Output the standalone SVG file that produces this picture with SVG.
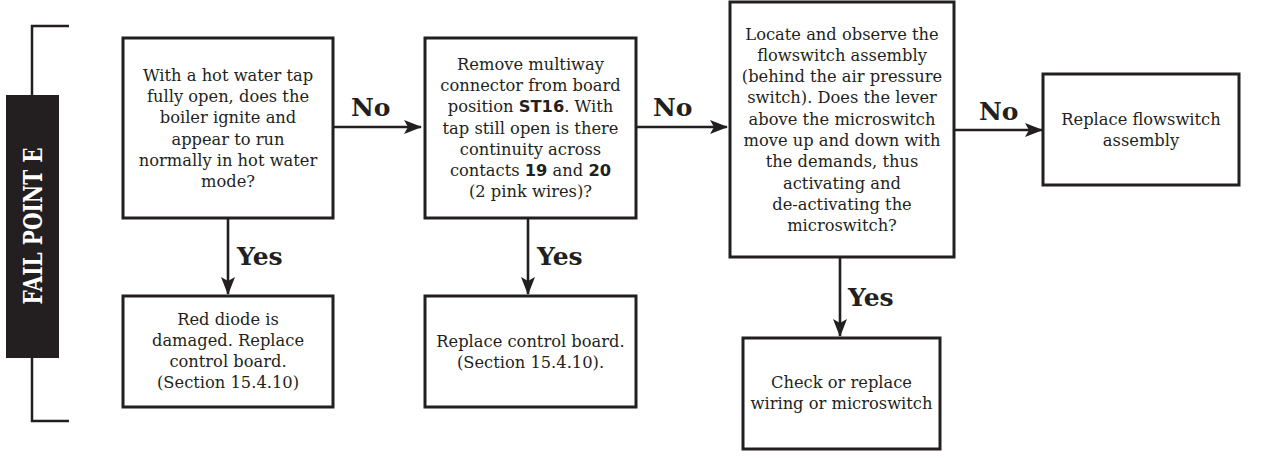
<svg xmlns="http://www.w3.org/2000/svg" width="1279" height="463" viewBox="0 0 1279 463">
<defs>
<style>
.box{fill:#fff;stroke:#231f20;stroke-width:3}
.t{font-family:"DejaVu Serif","Liberation Serif",serif;font-size:16.3px;fill:#231f20;text-anchor:middle}
.b{font-family:"DejaVu Sans","Liberation Sans",sans-serif;font-weight:bold}
.lbl{font-family:"DejaVu Serif","Liberation Serif",serif;font-weight:bold;font-size:25px;fill:#231f20}
.con{stroke:#231f20;stroke-width:2.6;fill:none}
.br{stroke:#231f20;stroke-width:2.5;fill:none}
</style>
<marker id="ah" markerUnits="userSpaceOnUse" viewBox="0 0 18 14" markerWidth="18" markerHeight="14" refX="17" refY="7" orient="auto">
<path d="M0,0 L18,7 L0,14 L4,7 z" fill="#231f20"/>
</marker>
</defs>
<rect width="1279" height="463" fill="#fff"/>

<g id="fail-point">
<path class="br" d="M69,26 H32 V421 H69"/>
<rect x="6" y="95" width="53" height="263" fill="#231f20"/>
<text transform="translate(42,226) rotate(-90)" text-anchor="middle" font-family="DejaVu Serif,Liberation Serif,serif" font-weight="bold" font-size="26" fill="#fff" textLength="157" lengthAdjust="spacingAndGlyphs">FAIL POINT E</text>
</g>

<g id="connectors">
<line class="con" x1="333" y1="127" x2="421" y2="127" marker-end="url(#ah)"/>
<text class="lbl" x="351" y="116">No</text>
<line class="con" x1="636" y1="127" x2="727" y2="127" marker-end="url(#ah)"/>
<text class="lbl" x="653" y="116">No</text>
<line class="con" x1="954" y1="130" x2="1042" y2="130" marker-end="url(#ah)"/>
<text class="lbl" x="979" y="120">No</text>
<line class="con" x1="228" y1="218" x2="228" y2="294" marker-end="url(#ah)"/>
<text class="lbl" x="237" y="265">Yes</text>
<line class="con" x1="528" y1="218" x2="528" y2="294" marker-end="url(#ah)"/>
<text class="lbl" x="537" y="265">Yes</text>
<line class="con" x1="840" y1="257" x2="840" y2="336" marker-end="url(#ah)"/>
<text class="lbl" x="848" y="306">Yes</text>
</g>

<g id="q1">
<rect class="box" x="123" y="38" width="210" height="180"/>
<text class="t"><tspan x="228" y="81">With a hot water tap</tspan><tspan x="228" y="102.2">fully open, does the</tspan><tspan x="228" y="123.4">boiler ignite and</tspan><tspan x="228" y="144.6">appear to run</tspan><tspan x="228" y="165.8">normally in hot water</tspan><tspan x="228" y="187">mode?</tspan></text>
</g>

<g id="q2">
<rect class="box" x="425" y="38" width="211" height="180"/>
<text class="t"><tspan x="530.5" y="70">Remove multiway</tspan><tspan x="530.5" y="91.2">connector from board</tspan><tspan x="530.5" y="112.4">position <tspan class="b">ST16</tspan>. With</tspan><tspan x="530.5" y="133.6">tap still open is there</tspan><tspan x="530.5" y="154.8">continuity across</tspan><tspan x="530.5" y="176">contacts <tspan class="b">19</tspan> and <tspan class="b">20</tspan></tspan><tspan x="530.5" y="197.2">(2 pink wires)?</tspan></text>
</g>

<g id="q3">
<rect class="box" x="730" y="2" width="224" height="255"/>
<text class="t"><tspan x="842" y="39.5">Locate and observe the</tspan><tspan x="842" y="60.8">flowswitch assembly</tspan><tspan x="842" y="82.1">(behind the air pressure</tspan><tspan x="842" y="103.4">switch). Does the lever</tspan><tspan x="842" y="124.7">above the microswitch</tspan><tspan x="842" y="146">move up and down with</tspan><tspan x="842" y="167.3">the demands, thus</tspan><tspan x="842" y="188.6">activating and</tspan><tspan x="842" y="209.9">de-activating the</tspan><tspan x="842" y="231.2">microswitch?</tspan></text>
</g>

<g id="r-flowswitch">
<rect class="box" x="1043" y="74" width="196" height="111"/>
<text class="t"><tspan x="1141" y="125">Replace flowswitch</tspan><tspan x="1141" y="146">assembly</tspan></text>
</g>

<g id="r-diode">
<rect class="box" x="123" y="296" width="210" height="111"/>
<text class="t"><tspan x="228" y="325">Red diode is</tspan><tspan x="228" y="346">damaged. Replace</tspan><tspan x="228" y="367">control board.</tspan><tspan x="228" y="388">(Section 15.4.10)</tspan></text>
</g>

<g id="r-board">
<rect class="box" x="425" y="296" width="211" height="111"/>
<text class="t"><tspan x="530.5" y="347">Replace control board.</tspan><tspan x="530.5" y="368">(Section 15.4.10).</tspan></text>
</g>

<g id="r-wiring">
<rect class="box" x="743" y="338" width="197" height="111"/>
<text class="t"><tspan x="841.5" y="388">Check or replace</tspan><tspan x="841.5" y="409">wiring or microswitch</tspan></text>
</g>
</svg>
